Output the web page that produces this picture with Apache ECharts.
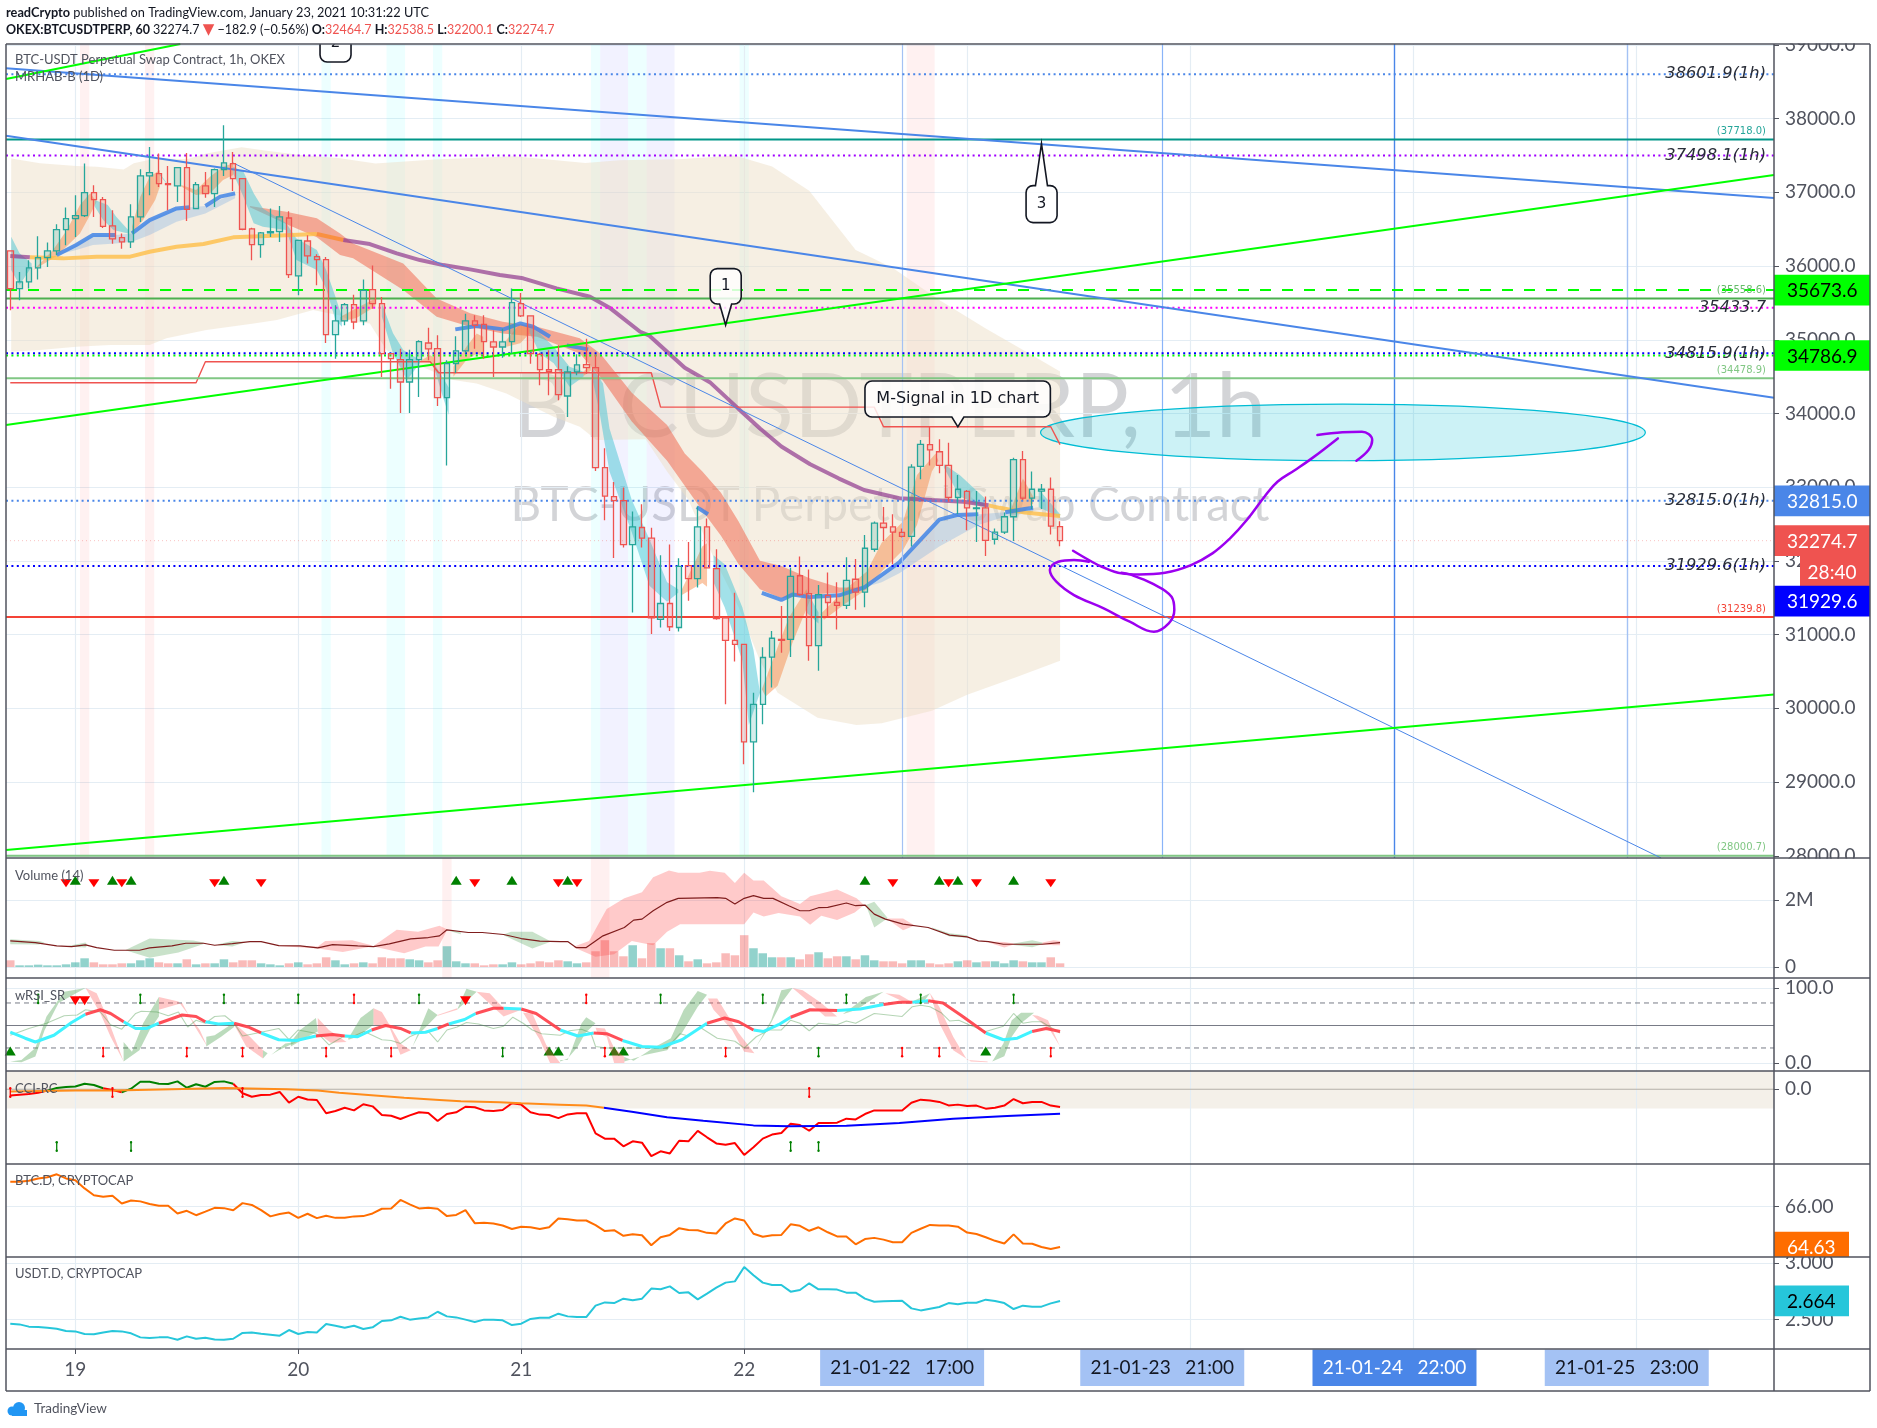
<!DOCTYPE html>
<html><head><meta charset="utf-8">
<style>html,body{margin:0;padding:0;background:#fff}#c{width:1877px;height:1428px}</style>
<script src="https://cdn.jsdelivr.net/npm/echarts@6/dist/echarts.min.js"></script>
</head><body><div id="c"></div>
<script>
// ---------- candles (hourly, bar 0 = 18 Jan 17:00, bar 7 = 19 Jan 00:00)
const open=[36205,35694,35784,35974,36114,36205,36494,36643,36684,36996,
36901,36544,36386,36327,36666,37222,37254,37118,37087,37335,
36779,37087,36983,37308,37390,37186,36503,36291,36449,36467,
36652,35866,36340,36128,36087,35069,35255,35476,35255,35680,
35490,34812,34730,34427,34730,34956,34879,34215,34676,34848,
35255,35210,34970,34902,34974,35490,35323,34803,34594,34594,
34237,34563,34662,34622,33265,32871,32817,32221,32453,32308,
31208,31422,31097,31935,31761,32463,31896,31228,30922,30869,
29546,30055,30695,30937,30937,31799,31557,30850,31533,31436,
31397,31751,31577,32158,32512,32463,32386,32332,33282,33577,
33481,33296,32860,32943,32710,32720,32294,32390,32599,33374,
32851,32948,32972,32464.7];
const close=[35694,35784,35974,36114,36205,36494,36643,36684,36996,36901,
36539,36368,36327,36666,37222,37268,37118,37105,37335,36770,
37105,36983,37308,37399,37186,36499,36291,36449,36467,36666,
35884,36349,36137,36087,35069,35255,35476,35241,35671,35490,
34812,34744,34427,34730,34974,34875,34215,34676,34848,35255,
35196,34974,34902,34970,35504,35323,34812,34594,34572,34255,
34563,34658,34622,33265,32880,32817,32221,32463,32308,31228,
31422,31107,31925,31761,32463,31906,31218,30922,30869,29546,
30055,30690,30951,30922,31790,31543,30850,31543,31436,31397,
31736,31577,32172,32512,32453,32390,32332,33272,33582,33505,
33296,32860,32972,32720,32720,32279,32390,32599,33374,32851,
32972,32972,32473,32274.7];
const high=[36205,35920,36078,36404,36318,36567,36793,36960,37390,37096,
36937,36757,36440,36838,37313,37616,37525,37358,37344,37534,
37141,37277,37322,37910,37548,37186,36520,36462,36779,36815,
36743,36349,36417,36160,36123,35468,35499,35612,35816,36006,
35581,34812,34879,34866,34993,35164,35061,34721,35047,35354,
35332,35332,35128,35151,35694,35635,35323,34821,34857,34925,
34640,34803,35015,34798,33527,33070,32996,32672,32768,32449,
32076,32221,32037,32255,32739,32575,32158,31228,31567,30869,
30210,30830,31048,31388,31906,32061,31882,31673,31843,31712,
32051,32027,32352,32536,32730,32633,32439,33311,33640,33820,
33650,33602,33166,32962,32948,32875,32439,32657,33398,33490,
33214,33045,33132,32538.5];
const low=[35400,35535,35694,35816,35988,36146,36282,36395,36666,36666,
36517,36304,36236,36246,36598,36960,37073,36757,36870,36612,
36770,36928,36802,37222,37019,36485,36078,36114,36395,36327,
35838,35603,36033,35739,34956,34744,35196,35142,35196,35422,
34495,34337,34007,34007,34224,34721,34101,33296,34549,34812,
34879,34744,34495,34757,34812,35309,34676,34382,34246,34178,
33952,34518,34540,33220,32550,32040,32182,31300,32182,31010,
31097,31048,31044,31460,31640,31896,31203,30055,30637,29241,
28863,29784,30283,30753,30695,31528,30646,30511,31252,31068,
31349,31339,31373,32124,32269,31954,32318,32197,33108,33296,
33190,32802,32633,32415,32255,32066,32221,32366,32269,32826,
32705,32705,32357,32200.1];
const volume=[200,50,50,70,50,50,80,140,260,140,
80,80,110,110,200,260,140,110,110,230,
80,110,110,230,140,200,200,110,80,50,
110,140,80,110,290,200,80,110,140,110,
290,260,260,230,200,140,200,620,170,110,
110,50,80,80,140,80,110,170,140,200,
170,110,140,470,800,470,320,650,260,710,
560,560,350,170,230,110,140,410,350,950,
560,410,290,290,290,230,380,440,260,320,
320,230,350,200,170,170,110,200,200,110,
80,110,170,200,140,170,170,110,200,170,
140,140,290,110];
const cci=[-33,-28,-25,-18,-7,7,12,14,29,22,5,-4,-16,3,39,39,29,27,41,8,26,13,38,41,29,-21,-39,-30,-28,-14,
-70,-39,-53,-56,-125,-113,-96,-110,-78,-89,-134,-138,-155,-136,-120,-124,-165,-129,-120,-91,-94,-110,-113,-108,-73,-80,-120,-132,-134,-150,
-131,-125,-125,-230,-257,-257,-297,-271,-278,-348,-323,-334,-268,-271,-217,-250,-282,-289,-280,-342,-302,-257,-236,-228,-179,-186,-216,-176,-176,-174,
-153,-157,-129,-110,-110,-110,-111,-70,-54,-58,-66,-84,-80,-87,-85,-101,-96,-85,-51,-73,-66,-66,-85,-92];
const btcD=[66.85,66.85,66.88,66.96,67.0,67.10,66.96,66.90,66.62,66.39,66.34,66.37,66.11,66.21,66.18,66.09,66.03,66.03,65.77,65.86,65.71,65.83,65.96,65.95,65.88,66.12,66.06,65.88,65.67,65.75,
65.80,65.62,65.76,65.61,65.69,65.62,65.62,65.67,65.68,65.77,65.93,65.94,66.23,66.08,65.94,65.96,65.93,65.68,65.72,65.88,65.44,65.45,65.43,65.36,65.24,65.32,65.30,65.24,65.30,65.60,
65.57,65.53,65.53,65.37,65.17,65.20,65.01,65.06,65.03,64.69,64.96,65.04,65.27,65.21,65.20,65.11,65.09,65.43,65.60,65.53,65.08,64.98,65.03,65.04,65.40,65.35,65.18,65.30,65.13,64.99,
64.99,64.72,64.90,64.94,64.88,64.79,64.79,65.11,65.25,65.38,65.36,65.36,65.32,65.12,65.07,64.96,64.84,64.75,65.06,64.75,64.74,64.63,64.56,64.63];
const usdtD=[2.462,2.456,2.436,2.433,2.427,2.418,2.397,2.394,2.371,2.368,2.385,2.397,2.394,2.377,2.341,2.335,2.341,2.341,2.32,2.35,2.329,2.338,2.323,2.32,2.329,2.38,2.385,2.374,2.365,2.356,
2.406,2.371,2.388,2.385,2.459,2.444,2.427,2.444,2.415,2.43,2.486,2.492,2.524,2.498,2.509,2.518,2.568,2.527,2.518,2.498,2.477,2.498,2.498,2.492,2.45,2.462,2.504,2.515,2.515,2.551,
2.527,2.521,2.521,2.622,2.651,2.645,2.684,2.669,2.684,2.773,2.767,2.793,2.734,2.74,2.678,2.728,2.781,2.826,2.837,2.965,2.891,2.826,2.805,2.805,2.746,2.761,2.82,2.767,2.767,2.764,
2.737,2.737,2.684,2.657,2.66,2.663,2.666,2.598,2.58,2.595,2.61,2.645,2.634,2.648,2.648,2.675,2.663,2.645,2.592,2.622,2.613,2.613,2.642,2.664];

// ---------- main-pane overlays, [bar, price]
const bandUpper=[[0.1,37460],[3.2,37393],[7.1,37357],[9.3,37348],[12.2,37311],[13.3,37393],[15.8,37461],[19,37447],[21.1,37528],[24.9,37610],[27.6,37565],[31.2,37506],[35.5,37461],[39.3,37390],[45.7,37444],[54.2,37489],[61.9,37399],[65.6,37435],[72,37450],[78,37500],[82,37350],[86,37020],[91,36218],[95,35972],[100,35540],[105,35152],[110,34789],[113,34570]];
const bandLower=[[0.1,34838],[3.2,34860],[7.1,34906],[10.7,34928],[15,34928],[16.8,35019],[21.1,35132],[26.2,35222],[28.7,35267],[32.6,35403],[35.5,35330],[36.9,35245],[38.7,35222],[40.5,34860],[43.4,34680],[47.7,34453],[50.2,34408],[53.4,34272],[56.3,34092],[58.5,33956],[61.3,33820],[63.1,33640],[68.4,33650],[70.7,33214],[73,32826],[75.7,32051],[78.4,31373],[80.7,30646],[82.6,30210],[86.9,29871],[91.1,29774],[93.8,29798],[99.2,29968],[103,30186],[108.4,30428],[113,30646]];
const ribbonRed=[[[25.8,36814],[29.7,36737],[33,36647],[35.5,36443],[36.9,36307],[42.3,36036],[45.9,35561],[49.5,35358],[53,35245],[56.7,35177],[61.3,35019],[63.5,34815],[66.9,34280],[70.7,33844],[72.6,33456],[74.5,33214],[76.5,32923],[78.4,32536],[80.7,32003],[83,31930],[86.1,31761],[89.2,31639],[91.9,31639]],
[[25.8,36796],[29.7,36570],[33,36389],[35.5,36149],[36.9,36104],[42.3,35674],[45.9,35313],[49.5,35177],[53,35086],[56.7,35041],[61.3,34815],[63.5,34499],[66.9,33892],[70.7,33359],[72.6,33020],[74.5,32681],[76.5,32342],[78.4,31954],[80.7,31615],[83,31494],[86.1,31543],[89.2,31567],[91.9,31639]]];
const ribbonOrange=[
[[[2.5,35946],[4.6,36217],[6.1,36488],[7.5,36828],[8.6,36986]],[[2.5,35946],[5,36136],[7.5,36443],[8.4,36647],[9.3,36873]]],
[[[13.1,36534],[14,36941],[15,37212],[16.1,37302]],[[13.1,36443],[14.3,36624],[15.6,36895],[16.1,37076]]],
[[[18.4,37100],[20,37031],[21.5,37212],[22.9,37348],[24,37393]],[[18.4,37080],[20,36963],[21.5,36986],[22.9,37167],[24,37235]]],
[[[35.5,35310],[37.3,35430],[39.3,35560]],[[35.5,35240],[37.3,35300],[39.3,35450]]],
[[[44.2,34720],[45.2,34790],[45.6,34760]],[[44.2,34700],[45.2,34690],[45.6,34660]]],
[[[47.7,34634],[49.1,34906],[50.2,35086],[50.9,35041]],[[47.7,34499],[49.1,34725],[50.2,34815],[50.9,34770]]],
[[[53.4,34996],[54.9,35222],[55.9,35177]],[[53.4,34906],[54.9,34951],[55.9,35086]]],
[[[61.7,34570],[62.5,34650]],[[61.7,34510],[62.5,34580]]],
[[[72.2,31590],[74.5,32200],[75,32240]],[[72.2,31530],[74.5,31700],[75,31650]]],
[[[80.9,30258],[82.2,30695],[83.8,31228],[85.7,31615]],[[81.3,30162],[82.6,30307],[84.2,30889],[86.1,31470]]],
[[[87.2,31276],[89.9,31615],[92.2,31857],[93.8,32245],[96.1,32536],[97.6,33166],[99.6,33456]],[[87.6,31203],[89.9,31421],[92.2,31615],[93.8,31857],[96.1,32148],[97.6,32487],[99.2,33214],[99.9,33360]]],
[[[107.8,32730],[109,33117],[110.1,32875]],[[107.8,32640],[109,32657],[110.1,32778]]]];
const ribbonTeal=[
[[[0.1,36398],[1,36172],[2.3,36036]],[[0.1,35946],[1,35742],[2.3,35990]]],
[[[9.1,36895],[10.5,36828],[11.4,36669],[12.7,36488]],[[9.1,36805],[10,36624],[11.1,36488],[12.7,36443]]],
[[[16.1,37257],[17,37100]],[[16.1,37230],[17,37090]]],
[[[24,37348],[25.1,37280],[26.2,36986],[27.2,36782],[29.7,36579],[30.8,36375],[33,36217],[34,35946],[35,35584],[35.7,35313]],[[24,37257],[25.1,36941],[26.2,36579],[27.2,36534],[29.7,36488],[30.8,36081],[33,35946],[34,35697],[35,35267],[35.7,35177]]],
[[[40,35493],[41.2,35087],[42.3,34860],[44.1,34725]],[[40,35313],[41.2,34815],[42.7,34453],[44.1,34680]]],
[[[45.6,34680],[46.5,34500],[47.2,34350]],[[45.6,34640],[46.5,34250],[47.2,33980]]],
[[[55.9,35177],[57,35086],[58.5,34906],[60.2,34634],[61.7,34567]],[[55.9,35100],[57,34815],[58.5,34680],[60.2,34363],[61.7,34499]]],
[[[62.6,34634],[63.8,34408],[64.5,33796],[66.9,32826],[68.8,32294],[70.7,31712],[71.9,31615]],[[62.6,34499],[63.4,34038],[64.5,33214],[66.9,32390],[68.8,31664],[70.7,31446],[71.9,31567]]],
[[[75.7,32076],[76.9,31954],[78.8,31373],[80,30792],[80.7,30210]],[[75.7,31712],[76.9,31373],[78.8,30646],[79.5,29774],[80.7,30210]]],
[[[85.7,31600],[87,31300]],[[85.7,31300],[87,31150]]],
[[[100.5,33311],[102.2,33166],[104.9,32851]],[[100.5,33263],[102.2,32875],[104.9,32730]]],
[[[110.7,32972],[113,32633]],[[110.7,32730],[113,32584]]]];
const blueBandA=[[[5,36149],[7.1,36285],[8.9,36421],[11.3,36421],[13.1,36443],[15,36624],[17.9,36782],[21,36814],[24.2,36986]],[[5,36149],[7.1,36217],[8.9,36285],[11.3,36307],[13.1,36330],[15,36421],[17.9,36601],[21,36714],[24.2,36918]]];
const blueBandB=[[[91.9,31639],[95.7,31979],[100,32560],[101.9,32623],[104.2,32633],[107.1,32660],[110.1,32720]],[[91.9,31639],[93.8,31712],[95.7,31833],[100,32197],[104.2,32487],[107.3,32608],[110.1,32657]]];
const blueMa=[[[5,36149],[7.1,36285],[8.9,36421],[11.3,36421]],[[13.1,36443],[15,36624],[17.9,36782],[19.3,36796]],[[21,36814],[22.6,36941],[24.2,36986]],
[[47.9,35141],[50.2,35186],[53.1,35141],[54.9,35222],[56.3,35177],[58.1,35041]],[[59.9,34924],[62.2,34870]],[[73.9,32730],[75.1,32633]],
[[80.9,31567],[83,31470],[84.2,31543],[86.1,31509],[89.2,31533],[91.9,31639],[95.7,31979],[100,32560],[101.9,32623],[104.2,32633]],[[107.1,32660],[109.2,32705],[110.1,32720]]];
const maPurple=[[[0,36136],[2.1,36118]],[[35.85,36353],[38.7,36298],[41.6,36172],[44.1,36081],[46.6,36013],[49.5,35955],[52.7,35878],[55.2,35833],[58.8,35697],[62.4,35584],[64.6,35426],[67.8,35109],[68.8,35055],[70.7,34837],[72.6,34619],[75.3,34425],[78.4,34062],[80.7,33796],[83,33553],[86.1,33311],[89.2,33117],[91.9,32962],[95.7,32851],[99.2,32826],[102.6,32802],[105.3,32754]]];
const maYellow=[[[2.1,36118],[5.7,36104],[9.3,36127],[12.9,36127],[15,36194],[17.9,36262],[20.8,36298],[24,36389],[27.6,36407],[33,36434]],[[105.3,32754],[106.5,32720],[109.2,32657],[113,32608]]];
const maOrange=[[33,36434],[35.85,36353]];
const mSignal=[[0,34417],[20,34417],[21,34702],[45.2,34702],[46.1,34553],[69,34553],[70,34086],[93,34086],[94,33820],[112,33820],[113,33577]];
const handArrow=[[114.4,32138],[116.1,32012],[117.5,31921],[119.6,31831],[121.5,31817],[124.3,31840],[127.1,31944],[129.4,32102],[131.3,32306],[133.1,32554],[135,32871],[136.4,33074],[138.3,33233],[140.1,33391],[142.9,33662]];
const handHook=[[140.7,33708],[143.4,33744],[145.5,33753],[146.6,33640],[146.2,33504],[144.9,33359]];
const handLasso=[[116.1,31989],[114.5,32012],[112.8,31989],[111.9,31876],[112.6,31718],[114.5,31537],[117.7,31356],[120.5,31175],[123.1,31040],[124.7,31153],[125.3,31334],[125,31514],[122.9,31695],[120.5,31817],[119.6,31840]];
const targetEllipse=[110.9,176,33359,34128];
const trendBlue=[[[-0.46,38682],[189.85,36923]],[[-0.46,37768],[189.85,34212]]];
const trendThin=[[24,37398],[177.7,27970]];
const trendGreen=[[[-0.46,38537],[18.3,39012]],[[-0.46,33843],[189.85,37235]],[[-0.46,28077],[189.85,30187]]];
const levelLines=[[38601.9,'#4a86e8','d'],[37718,'#009688','s'],[37498.1,'#a000ff','d'],[35673.6,'#00ff00','l'],[35558.6,'#4caf50','s'],[35433.7,'#ff00ff','d'],[34786.9,'#00ff00','d'],[34815.9,'#0000ff','d'],[34478.9,'#81c784','s'],[32815,'#4a86e8','d'],[31929.6,'#0000ff','d'],[31239.8,'#f44336','s'],[28000.7,'#81c784','s']];
const levelLabels=[[38601.9,'38601.9(1h)'],[37498.1,'37498.1(1h)'],[35433.7,'35433.7'],[34815.9,'34815.9(1h)'],[32815,'32815.0(1h)'],[31929.6,'31929.6(1h)']];
const smallLabels=[[37718,'(37718.0)','#26a69a'],[35558.6,'(35558.6)','#66bb6a'],[34478.9,'(34478.9)','#81c784'],[31239.8,'(31239.8)','#f44336'],[28000.7,'(28000.7)','#81c784']];
const bgPink=[[7.5,8.5],[14.5,15.5],[96.5,99.5]];
const bgCyan=[[33.5,34.5],[40.5,42.5],[45.5,46.5],[62.5,63.5],[66.5,68.5],[78.5,79.5]];
const bgLavender=[[63.5,66.5],[68.5,71.5]];
const dayBars=[7,31,55,79,103,127,151,175];
const dayLabels={7:'19',31:'20',55:'21',79:'22'};
const noteLines=[[96,'#a4c2f4',1.2],[124,'#8ab4f8',1.2],[149,'#4a86e8',1.4],[174,'#a4c2f4',1.4]];
const timeTags=[[96,'21-01-22   17:00','#a4c2f4','#131722'],[124,'21-01-23   21:00','#a4c2f4','#131722'],[149,'21-01-24   22:00','#4a86e8','#fff'],[174,'21-01-25   23:00','#a4c2f4','#131722']];
const balloons=[{bar:77,price:35200,l:-15.4,t:-56.4,w:31,h:35.4,tip:'down',text:'1',fs:15},{bar:111,price:37661,l:-15.4,t:42,w:31,h:37,tip:'up',text:'3',fs:15},{bar:35,price:39012,l:-15.4,t:-19,w:31,h:37,tip:'none',text:'2',fs:15},{bar:102,price:33819,l:-92.9,t:-45.8,w:185.4,h:36,tip:'down',text:'M-Signal in 1D chart',fs:16}];
const priceTags=[[35673.6,'35673.6','#00ff00','#000'],[34786.9,'34786.9','#00ff00','#000'],[32815,'32815.0','#4a86e8','#fff'],[32274.7,'32274.7','#ef5350','#fff'],[31929.6,'31929.6','#0000ff','#fff',35]];

// ---------- volume pane, [bar, thousands]
const volMa=[[0,780],[2.7,730],[5,630],[6.6,610],[8.1,660],[9.3,580],[11.2,500],[13.9,500],[15,570],[17.4,630],[18.9,710],[20.8,710],[22,650],[23.9,700],[25.8,760],[27,760],[28.9,640],[31.2,630],[33.1,570],[34.7,670],[37.4,630],[39.1,610],[40.8,690],[43.1,840],[45,880],[46.2,930],[47,1110],[49.3,1030],[50.8,1030],[53.1,970],[55,850],[57,770],[59.2,760],[60,760],[60.9,580],[62,580],[63.8,930],[66.1,1180],[67.1,1400],[68,1430],[69.2,1680],[70.7,1930],[71.9,2050],[76.1,2070],[77,2050],[78,1880],[79,2050],[80,2130],[81.1,2050],[82.1,2050],[83.8,1830],[85,1680],[86,1680],[87,1770],[88,1780],[90,1910],[91,1830],[92,1850],[93,1580],[94.2,1430],[96.1,1280],[98.8,1180],[101.1,950],[103,900],[104.2,780],[105.3,760],[106.9,680],[111.1,680],[113,730]];
const volGreen=[[[[0,830],[3.1,780],[3.7,730]],[[0,680],[3.1,670],[3.7,730]]],[[[6.2,630],[8.1,730],[8.3,650]],[[6.2,610],[8.1,580],[8.3,650]]],[[[12.4,510],[15,850],[19.7,790],[20.8,730]],[[12.4,500],[15,280],[18.1,430],[20.8,690]]],[[[22.4,680],[23.9,780],[25.4,750]],[[22.4,650],[23.9,610],[25.4,750]]],[[[47.2,1110],[48.5,1030]],[[47.2,1080],[48.5,980]]],[[[53.1,970],[53.9,1050],[56.2,1050],[58.1,780]],[[53.1,950],[56.2,550],[58.1,750]]],[[[92.1,1850],[93,1950],[94.4,1480]],[[92.1,1850],[93,1180],[94.4,1450]]],[[[99.2,1180],[101.1,1010],[103,950]],[[99.2,1160],[101.1,910],[103,870]]],[[[108,700],[110,800],[111.1,730]],[[108,660],[110,590],[111.1,680]]]];
const volRed=[[[[28.9,650],[33.1,610],[33.9,780],[36.8,800],[38.9,650]],[[28.9,630],[33.1,550],[35.8,450],[38.9,610]]],[[[39.1,630],[41.6,1110],[43.9,1050],[46.2,1230],[47,1130]],[[39.1,610],[42.4,410],[44.7,610],[46.1,610],[47,1090]]],[[[60.7,610],[62.3,780],[64.2,1730],[66.1,2050],[68,2230],[69.2,2680],[70.9,2880],[71.9,2810],[74.2,2810],[75.3,2870],[76.9,2810],[78,2510],[79,2810],[80,2580],[81.1,2580],[83,2110],[85,1880],[86.1,2110],[89,2310],[91.1,2050],[91.9,1850]],[[60.7,580],[63,310],[65,380],[66.9,780],[69.2,650],[70.7,1050],[72.1,1280],[79,1280],[80,1630],[81.1,1510],[82.7,1610],[85,1510],[86.1,1260],[87.3,1530],[89,1400],[90.9,1630],[91.9,1850]]],[[[94.4,1450],[96.1,1450],[97.3,1250]],[[94.4,1430],[96.1,1100],[97.3,1230]]],[[[105.3,760],[107,750],[108,700]],[[105.3,730],[107,580],[108,670]]],[[[111.1,730],[112.3,800],[113,780]],[[111.1,680],[112.3,650],[113,650]]]];
const volDown=[6,9,12,22,27,50,59,61,95,101,104,112];
const volUp=[7,11,13,23,48,54,60,92,100,102,108];
const volBgPink=[[46.5,47.5],[62.5,64.5]];

// ---------- wRSI pane, [bar, value]
const rsiThin=[[0,37],[2,46],[3.9,53],[5.8,63],[7.2,64],[8.1,71],[9.7,68],[10.8,51],[12,45],[13.5,66],[14.1,69],[15.8,68],[17,63],[18.1,68],[19.1,48],[20,57],[21,53],[22,62],[23.1,63],[24.1,53],[25,36],[26.6,40],[28.9,46],[30,31],[31,44],[32.7,40],[33.3,37],[34.3,24],[35.8,35],[36.8,35],[38.1,42],[40,31],[41,30],[42,26],[43,35],[43.9,40],[45,42],[46,28],[47,44],[48.1,48],[49.1,54],[50.4,52],[52,46],[53.1,49],[54.1,61],[55.2,53],[56.2,44],[57.2,39],[59.2,37],[60.2,43],[61.5,45],[62.5,40],[63,22],[64.2,20],[68,20],[70.7,20],[72.1,39],[73,36],[74.2,48],[76.1,33],[78,29],[79,20],[80.3,35],[81.7,44],[83,44],[84,57],[85,53],[86,43],[87,53],[89,51],[90,56],[91,53],[93,66],[96,62],[97.1,75],[98,77],[99,75],[100.2,67],[101.1,56],[102.1,57],[103.2,51],[105,42],[106.9,49],[108,66],[109,53],[110,55],[111,55],[113,40]];
const rsiMaCyan=[[[0,41],[1.6,33],[2.7,28],[4.7,37],[6.6,54],[8.1,65]],[[12.2,55],[13.5,46],[14.7,46],[16,53]],[[21,55],[22.4,52],[24.1,53]],[[27,40],[28.9,31],[30.8,30],[32.9,36]],[[36,36],[37.4,35],[38.9,44]],[[43.1,40],[44.7,41],[46,46]],[[47.2,52],[48.9,58],[50.1,66]],[[53.1,73],[55,72]],[[59.2,44],[61.1,36],[62.8,40]],[[65.9,30],[68,22],[70,21],[72.3,31],[75,53]],[[80,44],[81.1,42],[82.7,51],[84,61]],[[89,70],[91.5,72],[94,78]],[[97.1,81],[98.8,83]],[[105,40],[106.9,31],[108.4,33],[110,42]]];
const rsiMaRed=[[[8.1,65],[9.7,71],[10.8,66],[12.2,55]],[[16,53],[18.5,64],[20,62],[21,55]],[[24.1,53],[25.6,48],[27,40]],[[32.9,36],[34.7,38],[36,36]],[[38.9,44],[40.4,50],[42,46],[43.1,40]],[[46,46],[47.2,52]],[[50.1,66],[52,73],[53.1,73]],[[55,72],[56.6,66],[59.2,44]],[[62.8,40],[64.2,39],[65.9,30]],[[75,53],[76.9,60],[78.4,55],[80,44]],[[84,61],[86.1,71],[89,70]],[[94,78],[95.7,81],[97.1,81]],[[98.8,83],[100.4,80],[102.3,64],[105,40]],[[110,42],[111.5,46],[113,42]]];
const rsiGreen=[[[0,2],[1.2,4],[2.7,20],[3.9,62],[5.8,95],[8.1,100],[5.2,80],[3.7,44],[2.7,8.5],[1.2,1]],[[12.2,28],[13.1,15],[14.3,53],[16,88],[16,62],[15,44],[13.9,17],[12.2,2]],[[21.1,35],[22,37],[24.1,54],[24.1,48],[22.7,35],[21.1,22]],[[27.2,17],[27.7,13],[27.2,6]],[[28.1,11],[29.6,26],[30.8,28],[28.9,17]],[[30.2,28],[31.2,44],[32.9,60],[33.1,42],[32,35],[30.2,22]],[[36.4,33],[37.7,60],[39.1,73],[39.1,51],[37.4,35],[36.4,31]],[[43.3,22],[45,73],[46,64],[44.1,40]],[[48.1,71],[49.1,99],[50.2,95],[48.9,80]],[[59.2,4],[60,4],[61.5,53],[62,61],[63,53],[61.9,40],[61.1,22],[60,6],[59.2,2]],[[66.1,8],[67.1,3],[69.2,20],[71.1,33],[72.5,71],[74,96],[75,91],[74,75],[72.3,40],[70.7,17],[68.4,11],[66.1,2]],[[80.3,22],[81.9,57],[83,97],[84.2,100],[83,80],[81.5,44]],[[89.6,65],[92.1,88],[94,95],[91.1,71]],[[97.1,82],[99,93],[98.2,80],[97.1,80]],[[105.7,2],[106.9,26],[107.8,57],[108.8,67],[110.2,67],[108.8,53],[107.8,35],[107,9]]];
const rsiPink=[[[8.1,100],[9.3,93],[10.4,62],[12.2,2],[10.8,35],[9.7,66]],[[16,88],[18.1,82],[20.4,44],[21.2,22],[19.9,48],[18.5,80],[16,71]],[[24.1,53],[25.8,35],[27.2,17],[27.2,6],[25.4,22],[24.1,51]],[[33.1,60],[34.3,44],[36.2,28],[34.5,27],[33.1,40]],[[39.1,73],[40,68],[42,26],[43.1,17],[42,11],[40.8,48],[39.1,51]],[[46,64],[48.1,73],[48.1,71],[46,63]],[[50.2,95],[51.6,93],[53.1,73],[55,71],[53.1,62]],[[55.2,67],[56.2,66],[57.7,24],[59.2,0],[58.1,0],[57,31]],[[63,47],[64,46],[65,20],[66.1,8],[66.1,0],[65,0],[64.2,35],[63.2,40]],[[75.1,86],[76.1,86],[78.4,40],[80.1,13],[79,15],[77.7,44],[75.7,71]],[[84.2,100],[85.3,97],[87.3,80],[89,62],[87.7,62],[86.1,80]],[[94.2,93],[95.7,91],[97.1,81],[96.1,82]],[[99,93],[100,75],[101.5,35],[103,4],[105.2,2],[105.2,1],[103.4,2],[101.5,17],[100,53]],[[110.6,63],[111.7,57],[113,22],[111.9,44],[110,64]]];
const rsiTopGreen=[3,14,23,31,44,70,81,90,98,108];
const rsiTopRed=[37,62];
const rsiBottomRed=[10,19,25,34,41,64,77,96,100,112];
const rsiBottomGreen=[53,87];
const rsiDown=[7,8,49];
const rsiUp=[0,58,59,65,66,105];

// ---------- CCI pane slow line
const cciSlowOrange=[[0,-12],[3.5,-9],[7,-7],[11.2,-6],[17.4,0],[23.1,6],[29.7,0],[33.1,-7],[35.4,-18],[42.4,-44],[46.2,-56],[48.5,-63],[52.7,-68],[55,-73],[59.2,-80],[62,-85],[63.9,-96]];
const cciSlowBlue=[[63.9,-96],[66.9,-117],[70.7,-146],[74.6,-164],[80,-188],[83.8,-193],[90,-190],[95.7,-176],[101.5,-153],[107.3,-139],[113,-127]];
const cciGreenTicks=[5,13,84,87];
const cciRedTicks=[0,11,25,86];

// ---------- panes
const AX='#50535e', GRID='#e4edf4', FONT='Lato', XMIN=-0.46, XMAX=189.85;
const panes=[{top:44,h:814,min:27970,max:39012,ticks:[28000,29000,30000,31000,32000,33000,34000,35000,36000,37000,38000,39000],fmt:v=>v.toFixed(1)},
{top:858,h:120,min:-328,max:3254,ticks:[0,2000],fmt:v=>v?'2M':'0'},
{top:978,h:93,min:-10.7,max:113.3,ticks:[0,100],fmt:v=>v.toFixed(1)},
{top:1071,h:93,min:-389,max:95,ticks:[0],fmt:v=>v.toFixed(1)},
{top:1164,h:93,min:64.29,max:67.45,ticks:[66],fmt:v=>v.toFixed(2)},
{top:1257,h:92,min:2.238,max:3.053,ticks:[2.5,3],fmt:v=>v.toFixed(3)}];
const grids=panes.map(p=>({left:6,top:p.top,width:1768,height:p.h}));
const xAxes=panes.map((p,i)=>({type:'value',gridIndex:i,min:XMIN,max:XMAX,show:i===5,splitLine:{show:false},axisLine:{show:false,onZero:false},
 axisTick:{show:i===5,length:5,lineStyle:{color:AX},customValues:dayBars.slice(0,4)},
 axisLabel:{show:i===5,customValues:dayBars.slice(0,4),formatter:v=>dayLabels[v]||'',color:AX,fontFamily:FONT,fontSize:19,margin:11}}));
const yAxes=panes.map((p,i)=>({type:'value',gridIndex:i,position:'right',min:p.min,max:p.max,axisLine:{show:false,onZero:false},
 splitLine:{show:true,lineStyle:{color:GRID,width:1.2}},
 axisTick:{show:true,length:5,lineStyle:{color:AX},customValues:p.ticks},
 axisLabel:{show:true,customValues:p.ticks,formatter:p.fmt,color:AX,fontFamily:FONT,fontSize:19,margin:11,padding:[3,0,0,0]}}));

const series=[];
const ax=g=>({xAxisIndex:g,yAxisIndex:g,silent:true,animation:false});
function line(g,pts,color,w,z,extra){series.push(Object.assign(ax(g),{type:'line',data:pts,showSymbol:false,symbol:'none',z:z,lineStyle:Object.assign({color:color,width:w},extra||{})}));}
function smoothLine(g,pts,color,w,z){series.push(Object.assign(ax(g),{type:'line',data:pts,showSymbol:false,symbol:'none',smooth:0.4,z:z,lineStyle:{color:color,width:w,cap:'round',join:'round'}}));}
function poly(g,pts,fill,z){series.push(Object.assign(ax(g),{type:'custom',clip:true,z:z,data:[[pts[0][0],pts[0][1]]],renderItem:(p,api)=>({type:'polygon',shape:{points:pts.map(q=>api.coord(q))},style:{fill:fill}})}));}
const ring=b=>b[0].concat(b[1].slice().reverse());
function bars(g,list,fill,z){series.push(Object.assign(ax(g),{type:'custom',clip:true,z:z,data:list.map(d=>[d[0],0]),renderItem:(p,api)=>{const d=list[p.dataIndex],c=p.coordSys,a=api.coord([d[0],0])[0],b=api.coord([d[1],0])[0];return{type:'rect',shape:{x:a,y:c.y,width:b-a,height:c.height},style:{fill:fill}};}}));}
function vlines(g,list,z){series.push(Object.assign(ax(g),{type:'custom',z:z,data:list.map(d=>[d[0],0]),renderItem:(p,api)=>{const d=list[p.dataIndex],c=p.coordSys,x=Math.round(api.coord([d[0],0])[0])+.5;return{type:'line',shape:{x1:x,y1:c.y,x2:x,y2:c.y+c.height},style:{stroke:d[1],lineWidth:d[2],fill:null}};}}));}
function ticks(g,list,v0,v1,color,z){series.push(Object.assign(ax(g),{type:'custom',z:z,data:list.map(b=>[b,v0]),renderItem:(p,api)=>{const b=list[p.dataIndex],a=api.coord([b,v0]),e=api.coord([b,v1]);return{type:'group',children:[{type:'line',shape:{x1:a[0],y1:a[1],x2:e[0],y2:e[1]},style:{stroke:color,lineWidth:1.3}},{type:'circle',shape:{cx:a[0],cy:a[1],r:1.2},style:{fill:color}},{type:'circle',shape:{cx:e[0],cy:e[1],r:1.2},style:{fill:color}}]};}}));}
function tris(g,list,v,color,down,z,size){series.push(Object.assign(ax(g),{type:'scatter',z:z,symbol:'triangle',symbolSize:size||[10,8],symbolRotate:down?180:0,itemStyle:{color:color,opacity:1},data:list.map(b=>[b,v])}));}

// ---------- main pane
bars(0,bgPink,'rgba(255,60,60,0.07)',1); bars(0,bgCyan,'rgba(0,255,255,0.07)',1); bars(0,bgLavender,'rgba(70,70,255,0.07)',1);
vlines(0,dayBars.map(b=>[b,GRID,1.2]),1);
poly(0,bandUpper.concat(bandLower.slice().reverse()),'rgba(237,223,199,0.5)',2);
poly(0,ring(ribbonRed),'rgba(240,80,50,0.45)',3);
ribbonOrange.forEach(b=>poly(0,ring(b),'rgba(245,130,60,0.45)',3));
ribbonTeal.forEach(b=>poly(0,ring(b),'rgba(70,195,212,0.5)',3));
poly(0,ring(blueBandA),'rgba(100,160,225,0.28)',3); poly(0,ring(blueBandB),'rgba(100,160,225,0.28)',3);
maYellow.forEach(s=>line(0,s,'rgba(255,190,70,0.8)',4,4));
line(0,maOrange,'rgba(250,140,50,0.85)',4,4);
maPurple.forEach(s=>line(0,s,'rgba(140,50,140,0.68)',4,4));
blueMa.forEach(s=>line(0,s,'rgba(66,133,230,0.85)',4,4));
line(0,mSignal,'#ef5350',1.4,6);
noteLines.forEach(n=>vlines(0,[n],6));
levelLines.forEach(l=>{const d=l[2]==='d'?{type:[2,3.4]}:l[2]==='l'?{type:[11,11]}:{};line(0,[[XMIN,l[0]],[XMAX,l[0]]],l[1],2,6,d);});
line(0,[[XMIN,close[113]],[XMAX,close[113]]],'rgba(239,83,80,0.35)',1,6,{type:[1,3]});
trendBlue.forEach(s=>line(0,s,'#4a86e8',2,7));
line(0,trendThin,'#4a86e8',1,7);
trendGreen.forEach(s=>line(0,s,'#00ff00',2,7));
series.push(Object.assign(ax(0),{type:'custom',clip:true,z:6,data:[[targetEllipse[0],targetEllipse[2]]],renderItem:(p,api)=>{const a=api.coord([targetEllipse[0],targetEllipse[3]]),b=api.coord([targetEllipse[1],targetEllipse[2]]);return{type:'ellipse',shape:{cx:(a[0]+b[0])/2,cy:(a[1]+b[1])/2,rx:(b[0]-a[0])/2,ry:(b[1]-a[1])/2},style:{fill:'rgba(0,188,212,0.2)',stroke:'#00bcd4',lineWidth:1.2}};}}));
series.push(Object.assign(ax(0),{type:'candlestick',z:8,clip:true,barWidth:6,
 itemStyle:{color:'rgba(38,166,154,0.2)',color0:'rgba(239,83,80,0.2)',borderColor:'#26a69a',borderColor0:'#ef5350',borderWidth:1.3},
 data:open.map((o,i)=>[i,o,close[i],low[i],high[i]])}));
smoothLine(0,handArrow,'#9c00f0',2.5,9); smoothLine(0,handHook,'#9c00f0',2.5,9); smoothLine(0,handLasso,'#9c00f0',2.5,9);
// level labels
series.push(Object.assign(ax(0),{type:'custom',z:12,data:levelLabels.map(d=>[180,d[0]]),renderItem:(p,api)=>{const d=levelLabels[p.dataIndex],c=p.coordSys;return{type:'text',style:{x:c.x+c.width-8,y:api.coord([0,d[0]])[1],text:d[1],fill:'#2a2e39',font:'italic 16.3px "DejaVu Sans"',align:'right',verticalAlign:'middle'}};}}));
series.push(Object.assign(ax(0),{type:'custom',z:12,data:smallLabels.map(d=>[180,d[0]]),renderItem:(p,api)=>{const d=smallLabels[p.dataIndex],c=p.coordSys;return{type:'text',style:{x:c.x+c.width-8,y:api.coord([0,d[0]])[1]-8,text:d[1],fill:d[2],font:'10px "DejaVu Sans"',align:'right',verticalAlign:'middle'}};}}));
// callout balloons
function balloonPts(b){const r=7,pts=[],L=b.l,T=b.t,R=b.l+b.w,B=b.t+b.h,arc=(cx,cy,a0)=>{for(let k=0;k<=4;k++){const a=a0+k*Math.PI/8;pts.push([cx+r*Math.cos(a),cy+r*Math.sin(a)]);}};
 arc(L+r,T+r,Math.PI);
 if(b.tip==='up'){pts.push([-6,T],[0,0],[6,T]);}
 arc(R-r,T+r,-Math.PI/2); arc(R-r,B-r,0);
 if(b.tip==='down'){pts.push([6,B],[0,0],[-6,B]);}
 arc(L+r,B-r,Math.PI/2); return pts;}
series.push(Object.assign(ax(0),{type:'custom',clip:true,z:14,data:balloons.map(b=>[b.bar,b.price]),renderItem:(p,api)=>{const b=balloons[p.dataIndex],o=api.coord([b.bar,b.price]);return{type:'group',children:[{type:'polygon',shape:{points:balloonPts(b).map(q=>[q[0]+o[0],q[1]+o[1]])},style:{fill:'rgba(255,255,255,0.82)',stroke:'#131722',lineWidth:1.6}},{type:'text',style:{x:o[0]+b.l+b.w/2,y:o[1]+b.t+b.h/2,text:b.text,fill:'#131722',font:b.fs+'px "DejaVu Sans"',align:'center',verticalAlign:'middle'}}]};}}));

// ---------- tags on the price scale
function tags(g,list,width,z){series.push(Object.assign(ax(g),{type:'custom',z:z,data:list.map(d=>[180,d[0]]),renderItem:(p,api)=>{const d=list[p.dataIndex],c=p.coordSys,x=c.x+c.width,y=api.coord([0,d[0]])[1]+(d[4]||0),h=30.6,t=Math.max(y-h/2,c.y),e=Math.min(y+h/2,c.y+c.height);return{type:'group',children:[{type:'rect',shape:{x:x,y:t,width:width,height:e-t},style:{fill:d[2]}},{type:'text',style:{x:x+13,y:y+1,text:d[1],fill:d[3],font:'19px '+FONT,align:'left',verticalAlign:'middle'}}]};}}));}
tags(0,priceTags,96,20);
series.push(Object.assign(ax(0),{type:'custom',z:19,data:[[180,close[113]]],renderItem:(p,api)=>{const c=p.coordSys,x=c.x+c.width,y=api.coord([0,close[113]])[1];return{type:'group',children:[{type:'rect',shape:{x:x+26,y:y+15.3,width:70,height:30.6},style:{fill:'#ef5350'}},{type:'text',style:{x:x+58,y:y+32,text:'28:40',fill:'#fff',font:'19px '+FONT,align:'center',verticalAlign:'middle'}}]};}}));
tags(4,[[64.63,'64.63','#ff6d00','#fff']],75,20);
tags(5,[[2.664,'2.664','#26c6da','#000']],75,20);

// ---------- volume pane
bars(1,volBgPink,'rgba(255,60,60,0.08)',1);
vlines(1,dayBars.map(b=>[b,GRID,1.2]),1);
series.push(Object.assign(ax(1),{type:'bar',z:3,barWidth:8.5,data:volume.map((v,i)=>({value:[i,v],itemStyle:{color:close[i]>=open[i]?'rgba(38,166,154,0.5)':'rgba(239,83,80,0.4)'}}))}));
volGreen.forEach(b=>poly(1,ring(b),'rgba(76,160,80,0.3)',4));
volRed.forEach(b=>poly(1,ring(b),'rgba(255,60,60,0.27)',4));
line(1,volMa,'#7f1d1d',1.2,5);
tris(1,volUp,2590,'#008000',false,6,[11,9]);
tris(1,volDown,2500,'#ff0000',true,6,[11,8]);

// ---------- wRSI pane
vlines(2,dayBars.map(b=>[b,GRID,1.2]),1);
line(2,[[XMIN,80],[XMAX,80]],'#787b86',1,2,{type:[5,4]});
line(2,[[XMIN,50],[XMAX,50]],'#787b86',1.2,2);
line(2,[[XMIN,20],[XMAX,20]],'#787b86',1,2,{type:[5,4]});
rsiGreen.forEach(q=>poly(2,q,'rgba(76,160,80,0.38)',3));
rsiPink.forEach(q=>poly(2,q,'rgba(255,70,70,0.3)',3));
line(2,rsiThin,'rgba(70,150,70,0.4)',1.1,4);
rsiMaCyan.forEach(s=>line(2,s,'#40f3ff',3,5));
rsiMaRed.forEach(s=>line(2,s,'rgba(255,60,70,0.9)',3,5));
ticks(2,rsiTopGreen,91,80,'#008000',6); ticks(2,rsiTopRed,91,80,'#ff0000',6);
ticks(2,rsiBottomRed,20,9,'#ff0000',6); ticks(2,rsiBottomGreen,20,9,'#008000',6);
tris(2,rsiDown,83,'#ff0000',true,6,[11,9]);
tris(2,rsiUp,16,'#008000',false,2,[11,9]);

// ---------- CCI pane
poly(3,[[XMIN,100],[XMAX,100],[XMAX,-100],[XMIN,-100]],'#f4f0e9',1);
vlines(3,dayBars.map(b=>[b,GRID,1.2]),1);
line(3,[[XMIN,0],[XMAX,0]],'#b5b0a8',1.2,2);
const cciXY=cci.map((v,i)=>[i,v]);
line(3,cciXY.slice(0,5),'#ff0000',2,4);
line(3,cciXY.slice(4,11),'#008000',2,4);
line(3,cciXY.slice(10,13),'#ff0000',2,4);
line(3,cciXY.slice(12,25),'#008000',2,4);
line(3,cciXY.slice(24),'#ff0000',2,4);
line(3,cciSlowOrange,'#ff8c1a',2,5);
line(3,cciSlowBlue,'#0000ff',2,5);
ticks(3,cciGreenTicks,-276,-320,'#008000',6);
ticks(3,cciRedTicks,5,-39,'#ff0000',6);

// ---------- dominance panes
vlines(4,dayBars.map(b=>[b,GRID,1.2]),1);
line(4,btcD.map((v,i)=>[i,v]),'#ff6d00',2,4);
vlines(5,dayBars.map(b=>[b,GRID,1.2]),1);
line(5,usdtD.map((v,i)=>[i,v]),'#26c6da',2,4);
// time tags under the last pane
series.push(Object.assign(ax(5),{type:'custom',z:20,data:timeTags.map(d=>[d[0],2.5]),renderItem:(p,api)=>{const d=timeTags[p.dataIndex],c=p.coordSys,x=api.coord([d[0],0])[0],y=c.y+c.height+.5;return{type:'group',children:[{type:'rect',shape:{x:x-82,y:y,width:164,height:36.5},style:{fill:d[2]}},{type:'text',style:{x:x,y:y+18.5,text:d[1],fill:d[3],font:'19px '+FONT,align:'center',verticalAlign:'middle'}}]};}}));

// ---------- frame and plain text
const hl=(x1,y1,x2,y2,c,w)=>({type:'line',z:100,silent:true,shape:{x1,y1,x2,y2},style:{stroke:c||AX,lineWidth:w||1.5}});
const txt=(x,y,t,f,c,z)=>({type:'text',z:z||101,silent:true,x:x,y:y,style:{text:t,font:f,fill:c||AX,verticalAlign:'middle',align:'left'}});
const TF='13px '+FONT;
const graphic=[
 {type:'text',z:0,silent:true,x:889,y:408,style:{text:'BTCUSDTPERP, 1h',font:'90px '+FONT,fill:'rgba(120,123,134,0.33)',align:'center',verticalAlign:'middle'}},
 {type:'text',z:0,silent:true,x:890,y:506,style:{text:'BTC-USDT Perpetual Swap Contract',font:'47.5px '+FONT,fill:'rgba(120,123,134,0.33)',align:'center',verticalAlign:'middle'}},
 {type:'rect',z:4,silent:true,shape:{x:1775,y:28,width:94,height:15.5},style:{fill:'#fff'}},
 {type:'rect',z:4,silent:true,shape:{x:1775,y:858.5,width:94,height:8},style:{fill:'#fff'}},
 hl(6,44,1870,44),hl(6,44,6,1391),hl(1870,44,1870,1391),hl(6,1391,1870,1391),hl(1774,44,1774,1391),
 hl(6,858,1870,858),hl(6,978,1870,978),hl(6,1071,1870,1071),hl(6,1164,1870,1164),hl(6,1257,1870,1257),hl(6,1349,1870,1349),
 {type:'text',z:101,silent:true,x:6,y:13,style:{font:'12.75px '+FONT,fill:'#131722',verticalAlign:'middle',text:'{b|readCrypto} published on TradingView.com, January 23, 2021 10:31:22 UTC',rich:{b:{font:'bold 12.75px '+FONT,fill:'#131722'}}}},
 {type:'text',z:101,silent:true,x:6,y:30,style:{font:'12.5px '+FONT,fill:'#131722',verticalAlign:'middle',text:'{b|OKEX:BTCUSDTPERP, 60} 32274.7 {t|▼} −182.9 (−0.56%) {b|O:}{r|32464.7} {b|H:}{r|32538.5} {b|L:}{r|32200.1} {b|C:}{r|32274.7}',rich:{b:{font:'bold 12.5px '+FONT,fill:'#131722'},r:{font:'12.5px '+FONT,fill:'#ef5350'},t:{font:'15px "DejaVu Sans"',fill:'#ef5350'}}}},
 txt(15,60,'BTC-USDT Perpetual Swap Contract, 1h, OKEX',TF),
 txt(15,77,'MRHAB-B (1D)',TF),
 txt(15,875.5,'Volume (14)',TF),
 txt(15,996,'wRSI_SR',TF),
 txt(15,1089,'CCI-RC',TF),
 txt(15,1181,'BTC.D, CRYPTOCAP',TF),
 txt(15,1274,'USDT.D, CRYPTOCAP',TF),
 {type:'circle',z:101,silent:true,shape:{cx:12,cy:1411,r:4.5},style:{fill:'#2196f3'}},
 {type:'circle',z:101,silent:true,shape:{cx:19,cy:1408,r:6},style:{fill:'#2196f3'}},
 {type:'rect',z:101,silent:true,shape:{x:12,y:1410,width:15,height:6},style:{fill:'#2196f3'}},
 txt(34,1409,'TradingView','13.5px '+FONT,'#50535e')
];
const chart=echarts.init(document.getElementById('c'),null,{renderer:'canvas',width:1877,height:1428});
chart.setOption({animation:false,backgroundColor:'#fff',grid:grids,xAxis:xAxes,yAxis:yAxes,series:series,graphic:graphic,tooltip:{show:false}});
</script></body></html>
